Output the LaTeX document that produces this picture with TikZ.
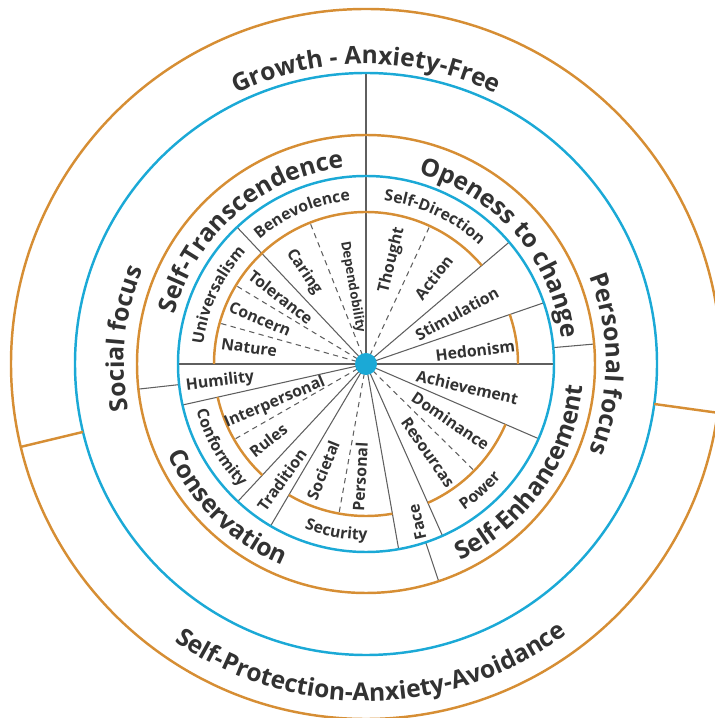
\documentclass[tikz,border=0pt]{standalone}
\usepackage{fontspec}
\setmainfont{Open Sans}
\usetikzlibrary{decorations.text}
\definecolor{ringorange}{RGB}{214,142,52}
\definecolor{ringblue}{RGB}{27,169,214}
\definecolor{spokegray}{RGB}{95,95,95}
\definecolor{labelgray}{RGB}{50,50,50}

\begin{document}
\begin{tikzpicture}[
orangering/.style={draw=ringorange, line width=1.4pt},
bluering/.style={draw=ringblue, line width=1.4pt},
spoke/.style={draw=spokegray, line width=0.6pt},
subspoke/.style={spoke, dash pattern=on 3pt off 2.5pt},
valuelabel/.style={font=\fontsize{9}{10}\selectfont\bfseries, text=labelgray, inner sep=0pt},
biglabel/.style={decorate, decoration={text along path, text align=center,
  text color=labelgray, text={|\fontsize{14}{16}\selectfont\bfseries|#1}}},
grouplabel/.style={decorate, decoration={text along path, text align=center,
  text color=labelgray, text={|\fontsize{9}{10}\selectfont\bfseries|#1}}}
]
\useasboundingbox (-7.32,-7.08) rectangle (6.96,7.28);
\coordinate (hub) at (0,0);

% spokes
\foreach \a in {0,19,40.4,133.3,180,192.6,227,239.5,280,294,336.6}
  \draw[spoke] (hub) -- (\a:3.76);
\draw[spoke] (hub) -- (90:5.82);
\foreach \a in {65.2,111.6,148.9,164.4,209.8,259.75,315.4}
  \draw[subspoke] (hub) -- (\a:3.04);
\foreach \a in {5,186.3,288.5}
  \draw[spoke] (\a:3.76) -- (\a:4.58);

% rings
\draw[orangering] (hub) circle (7.1);
\draw[bluering] (hub) circle (5.82);
\draw[orangering] (hub) circle (4.58);
\draw[bluering] (hub) circle (3.76);
\foreach \a/\b in {0/19, 40.4/180, 192.6/227, 239.5/280, 294/336.6}
  \draw[orangering] (\a:3.04) arc[start angle=\a, end angle=\b, radius=3.04];
\foreach \a in {193.5,-7.9}
  \draw[orangering] (\a:5.82) -- (\a:7.1);

% outer labels
\path[biglabel={Growth - Anxiety-Free}] (150:6.0) arc[start angle=150, end angle=30, radius=6.0];
\path[biglabel={Self-Protection-Anxiety-Avoidance}] (211:6.74) arc[start angle=211, end angle=331, radius=6.74];
\path[biglabel={Social focus}] (234:4.84) arc[start angle=234, end angle=114, radius=4.84];
\path[biglabel={Personal focus}] (60:4.8) arc[start angle=60, end angle=-60, radius=4.8];

% higher order values
\path[biglabel={Self-Transcendence}] (191:3.95) arc[start angle=191, end angle=71, radius=3.95];
\path[biglabel={Openess to change}] (101:3.95) arc[start angle=101, end angle=-19, radius=3.95];
\path[biglabel={Self-Enhancement}] (-95:4.36) arc[start angle=-95, end angle=25, radius=4.36];
\path[biglabel={Conservation}] (166:4.36) arc[start angle=166, end angle=286, radius=4.36];

% value groups
\path[grouplabel={Benevolence}] (143:3.28) arc[start angle=143, end angle=83, radius=3.28];
\path[grouplabel={Self-Direction}] (100:3.28) arc[start angle=100, end angle=30, radius=3.28];
\path[grouplabel={Universalism}] (190:3.28) arc[start angle=190, end angle=120, radius=3.28];
\path[grouplabel={Conformity}] (175:3.52) arc[start angle=175, end angle=245, radius=3.52];
\path[grouplabel={Security}] (230:3.52) arc[start angle=230, end angle=290, radius=3.52];
\path[grouplabel={Power}] (-78:3.52) arc[start angle=-78, end angle=-18, radius=3.52];

% values
\foreach \ang/\rad/\rot/\name in {76/2.14/76/Thought, 52/2.2/52/Action,
  29/2.08/29/Stimulation, 7/2.2/7/Hedonism, -13/2.08/-13/Achievement,
  -34/2.04/-34/Dominance, -55/2.16/-55/Resourcas, -72/3.32/103/Face,
  124/2.22/-56/Caring, 142/2.16/-38/Tolerance, 157/2.3/-23/Concern,
  172/2.36/-8/Nature, 187/2.94/7/Humility, 203/1.98/23/Interpersonal,
  218/2.48/38/Rules, 234/2.86/54/Tradition, 248/2.29/68/Societal,
  267/2.26/87/Personal}
  \node[valuelabel, rotate=\rot] (v-\name) at (\ang:\rad) {\name};
\node[valuelabel, font=\fontsize{7.5}{8}\selectfont\bfseries, rotate=-80] (v-Dependobility) at (100:1.56) {Dependobility};

\fill[ringblue] (hub) circle (0.22);
\end{tikzpicture}
\end{document}
